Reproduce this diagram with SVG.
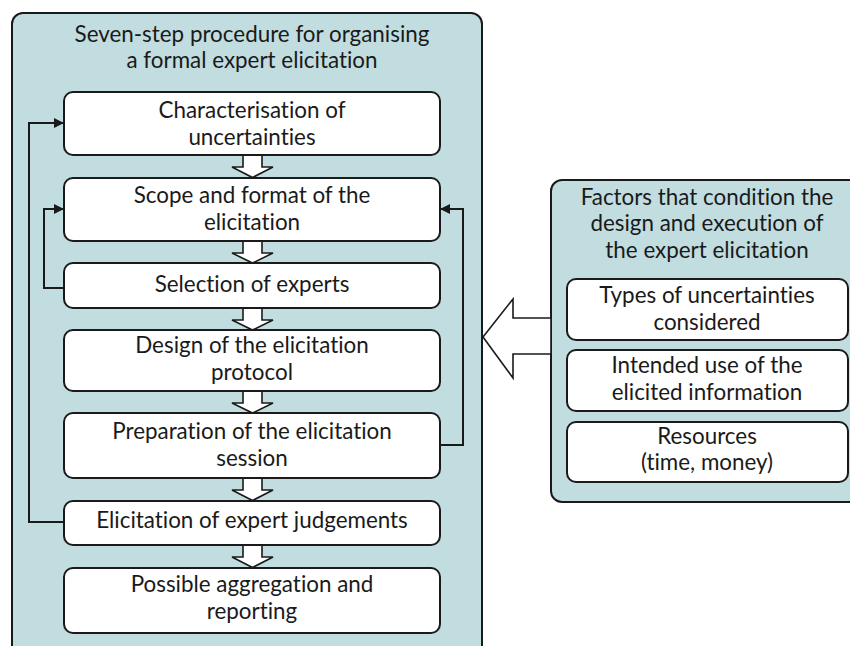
<svg xmlns="http://www.w3.org/2000/svg" width="850" height="646" viewBox="0 0 850 646">
<style>
.panel{fill:#c1dde0;stroke:#1a1a1a;stroke-width:2}
.box{fill:#ffffff;stroke:#1a1a1a;stroke-width:2}
.hollow{fill:#ffffff;stroke:#1a1a1a;stroke-width:1.6;stroke-linejoin:miter}
.conn{fill:none;stroke:#1a1a1a;stroke-width:2}
text{font-family:Lato,"Noto Sans","Liberation Sans",sans-serif;font-size:22.4px;fill:#1a1a1a;text-anchor:middle;font-variant-ligatures:none}
</style>
<defs>
<marker id="ah" markerWidth="10" markerHeight="10" refX="9" refY="5" orient="auto" markerUnits="userSpaceOnUse">
<path d="M0,0 L10,5 L0,10 Z" fill="#1a1a1a"/>
</marker>
</defs>
<g id="procedure-panel">
<rect class="panel" x="12" y="13" width="470" height="660" rx="11"/>
<text x="252" y="42">Seven-step procedure for organising</text>
<text x="252" y="68">a formal expert elicitation</text>
</g>
<g id="factors-panel">
<rect class="panel" x="551" y="180" width="320" height="322" rx="11"/>
<text x="707" y="205">Factors that condition the</text>
<text x="707" y="231">design and execution of</text>
<text x="707" y="258">the expert elicitation</text>
</g>
<g id="connectors">
<polyline class="conn" points="64,522 29,522 29,123 63,123" marker-end="url(#ah)"/>
<polyline class="conn" points="64,288 44,288 44,209 63,209" marker-end="url(#ah)"/>
<polyline class="conn" points="440,445 463,445 463,209 441,209" marker-end="url(#ah)"/>
<polygon class="hollow" points="243,155 262,155 262,167 273,167 252.5,177.5 232,167 243,167"/>
<polygon class="hollow" points="243,241 262,241 262,253 273,253 252.5,263 232,253 243,253"/>
<polygon class="hollow" points="243,308 262,308 262,320 273,320 252.5,330 232,320 243,320"/>
<polygon class="hollow" points="243,391 262,391 262,403 273,403 252.5,413 232,403 243,403"/>
<polygon class="hollow" points="243,478 262,478 262,490 273,490 252.5,500.5 232,490 243,490"/>
<polygon class="hollow" points="243,545 262,545 262,557 273,557 252.5,567.5 232,557 243,557"/>
<polygon class="hollow" points="551,318 513,318 513,299 483,337 513,378 513,354 551,354"/>
</g>
<g id="step1"><rect class="box" x="64" y="92" width="376" height="63" rx="9"/><text x="252" y="118">Characterisation of</text><text x="252" y="145">uncertainties</text></g>
<g id="step2"><rect class="box" x="64" y="178" width="376" height="63" rx="9"/><text x="252" y="203">Scope and format of the</text><text x="252" y="230">elicitation</text></g>
<g id="step3"><rect class="box" x="64" y="263" width="376" height="45" rx="9"/><text x="252" y="292">Selection of experts</text></g>
<g id="step4"><rect class="box" x="64" y="330" width="376" height="61" rx="9"/><text x="252" y="353">Design of the elicitation</text><text x="252" y="380">protocol</text></g>
<g id="step5"><rect class="box" x="64" y="413" width="376" height="65" rx="9"/><text x="252" y="439">Preparation of the elicitation</text><text x="252" y="466">session</text></g>
<g id="step6"><rect class="box" x="64" y="501" width="376" height="44" rx="9"/><text x="252" y="528">Elicitation of expert judgements</text></g>
<g id="step7"><rect class="box" x="64" y="568" width="376" height="65" rx="9"/><text x="252" y="592">Possible aggregation and</text><text x="252" y="619">reporting</text></g>
<g id="factor1"><rect class="box" x="567" y="279" width="281" height="61" rx="9"/><text x="707" y="303">Types of uncertainties</text><text x="707" y="330">considered</text></g>
<g id="factor2"><rect class="box" x="567" y="350" width="281" height="61" rx="9"/><text x="707" y="373">Intended use of the</text><text x="707" y="400">elicited information</text></g>
<g id="factor3"><rect class="box" x="567" y="422" width="281" height="60" rx="9"/><text x="707" y="444">Resources</text><text x="707" y="470">(time, money)</text></g>
</svg>
